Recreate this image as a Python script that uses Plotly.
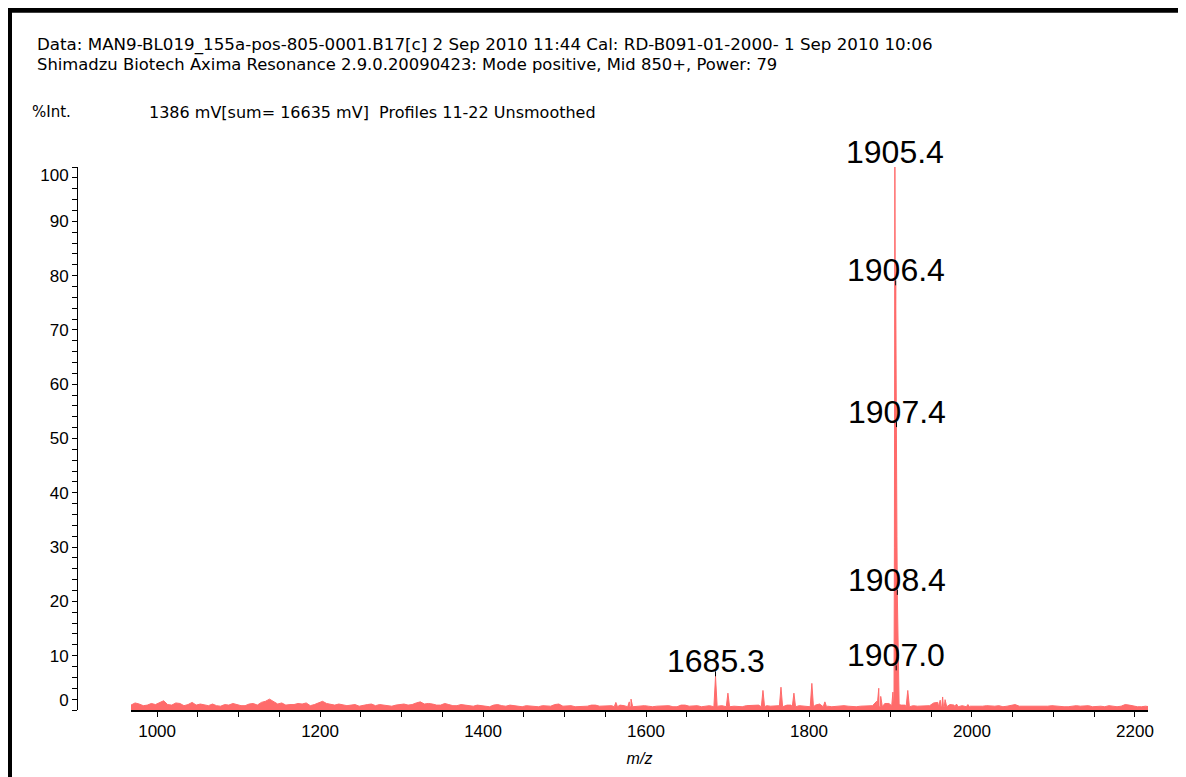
import plotly.graph_objects as go

# ---------------- data ----------------
header_line1 = "Data: MAN9-BL019_155a-pos-805-0001.B17[c] 2 Sep 2010 11:44 Cal: RD-B091-01-2000- 1 Sep 2010 10:06"
header_line2 = "Shimadzu Biotech Axima Resonance 2.9.0.20090423: Mode positive, Mid 850+, Power: 79"
y_title = "%Int."
info_text = "1386 mV[sum= 16635 mV]  Profiles 11-22 Unsmoothed"
x_title = "m/z"

# baseline noise, sampled every 5 Da starting at m/z 968 (%Int)
NOISE_START = 968
NOISE_STEP = 5
noise_int = [
    0.9, 1.3, 1.1, 0.8, 0.9, 1.2, 1.0, 1.4, 1.7, 1.0, 0.9, 1.3, 1.2, 0.8, 1.0, 1.4, 0.9, 1.1, 1.0, 0.8,
    1.1, 0.8, 0.7, 1.0, 0.9, 1.2, 1.0, 0.8, 0.8, 1.1, 1.2, 0.9, 1.4, 1.6, 2.0, 1.5, 1.1, 1.3, 0.9, 1.0,
    1.0, 1.2, 1.1, 1.3, 0.8, 1.0, 1.3, 1.6, 1.2, 1.0, 0.9, 1.1, 1.0, 0.8, 0.9, 1.0, 0.7, 0.9, 1.0, 1.1,
    0.8, 1.0, 0.9, 0.7, 0.7, 0.9, 1.0, 1.1, 0.9, 1.0, 1.3, 1.5, 1.1, 1.2, 1.1, 0.9, 0.9, 1.2, 1.0, 0.8,
    0.8, 1.0, 0.9, 0.8, 0.7, 0.9, 0.8, 0.7, 0.6, 0.9, 1.0, 0.8, 0.7, 0.9, 0.8, 0.7, 0.6, 0.8, 0.7, 0.6,
    0.6, 0.8, 0.8, 0.7, 1.0, 1.1, 0.7, 0.8, 0.8, 0.6, 0.6, 0.7, 0.7, 0.9, 0.9, 0.7, 0.7, 0.8, 0.8, 0.7,
    0.9, 0.8, 1.0, 1.2, 0.7, 0.8, 0.8, 0.7, 0.6, 0.7, 0.7, 0.8, 0.8, 0.6, 0.6, 0.9, 0.9, 0.7, 0.7, 0.8,
    0.6, 0.7, 0.8, 0.7, 0.7, 0.8, 0.8, 0.7, 0.7, 0.6, 0.6, 0.8, 0.8, 0.9, 0.9, 0.8, 0.8, 0.7, 0.7, 0.8,
    0.8, 0.9, 0.9, 0.8, 0.8, 0.7, 0.7, 0.9, 0.9, 1.1, 0.8, 0.7, 0.6, 0.7, 0.8, 0.8, 0.7, 0.6, 0.6, 0.7,
    0.7, 0.8, 0.8, 1.6, 1.6, 1.2, 1.2, 1.0, 1.0, 0.9, 0.9, 0.8, 0.8, 0.7, 0.7, 0.8, 0.8, 1.3, 1.4, 1.2,
    1.2, 1.0, 0.9, 0.8, 0.8, 0.9, 0.7, 0.7, 0.6, 0.7, 0.8, 0.7, 0.7, 0.8, 0.6, 0.7, 0.9, 1.0, 0.7, 0.7,
    0.6, 0.7, 0.7, 0.6, 0.6, 0.7, 0.8, 0.7, 0.7, 0.6, 0.6, 0.7, 0.8, 0.7, 0.7, 0.8, 0.6, 0.7, 0.7, 0.6,
    0.8, 0.7, 0.6, 0.7, 1.0, 0.9, 0.7, 0.6, 0.6, 0.7, 0.6, 0.7,
]

# isolated peaks (m/z, %Int)
peak_mz = [1563.0, 1579.5, 1581.6, 1685.3, 1700.5, 1743.5, 1765.6, 1781.5,
           1803.5, 1819.5, 1885.6, 1888.0, 1921.2, 1961.0, 1964.0, 1967.0,
           1981.0, 1995.0]
peak_int = [1.4, 1.5, 2.0, 6.2, 3.1, 3.6, 4.2, 3.1,
            4.9, 1.5, 4.0, 2.5, 3.6, 1.8, 2.4, 1.9,
            1.1, 1.0]

# main isotope cluster profile (m/z, %Int)
cluster_mz = [1901.5, 1903.0, 1903.8, 1904.3, 1904.8, 1905.4, 1905.9, 1906.4,
              1906.9, 1907.4, 1907.9, 1908.4, 1908.9, 1909.4, 1910.0, 1910.6]
cluster_int = [0.8, 3.3, 1.0, 1.5, 30.0, 100.0, 70.0, 78.2,
               50.0, 52.1, 32.0, 21.2, 16.0, 10.0, 4.0, 1.0]

# labelled peaks
label_text = ["1685.3", "1905.4", "1906.4", "1907.4", "1908.4", "1907.0"]
label_mz = [1685.3, 1905.4, 1906.4, 1907.4, 1908.4, 1907.0]
label_int = [6.2, 100.0, 78.2, 52.1, 21.2, 7.3]

y_tick_text = ["0", "10", "20", "30", "40", "50", "60", "70", "80", "90", "100"]

# ---------------- build the profile ----------------
FOOT_HALF = 2.0
FOOT_LEVEL = 0.6
noise_mz = [NOISE_START + NOISE_STEP * i for i in range(len(noise_int))]
c_lo, c_hi = min(cluster_mz), max(cluster_mz)
pts = [(m, v) for m, v in zip(noise_mz, noise_int)
       if all(abs(m - p) > FOOT_HALF + 0.5 for p in peak_mz)
       and not (c_lo - 0.5 <= m <= c_hi + 0.5)]
for p, h in zip(peak_mz, peak_int):
    pts += [(p - FOOT_HALF, FOOT_LEVEL), (p, h), (p + FOOT_HALF, FOOT_LEVEL)]
pts += list(zip(cluster_mz, cluster_int))
pts.sort()
xs = [a for a, _ in pts]
ys = [b for _, b in pts]

FONT = "Arial, 'Liberation Sans', sans-serif"
HFONT = "'DejaVu Sans', Arial, sans-serif"
RED = "#ff6b6b"

fig = go.Figure()
fig.add_trace(go.Scatter(x=xs, y=ys, mode="lines",
                         line=dict(color=RED, width=1),
                         fill="tozeroy", fillcolor=RED,
                         hoverinfo="skip", showlegend=False))

# ---------------- layout geometry (page pixels) ----------------
OFF = 8                      # page body margin
PAGE_W, PAGE_H = 1186, 777
W, H = PAGE_W - OFF, PAGE_H - OFF
PLOT_L, PLOT_R, PLOT_T, PLOT_B = 77, 1148, 167, 713   # page coords
ML, MR, MT, MB = PLOT_L - OFF, PAGE_W - PLOT_R, PLOT_T - OFF, PAGE_H - PLOT_B
pw = PLOT_R - PLOT_L
ph = PLOT_B - PLOT_T


def px_x(px):
    return (px - PLOT_L) / pw


def px_y(py):
    return (PLOT_B - py) / ph


annotations = []
for t, m, h in zip(label_text, label_mz, label_int):
    annotations.append(dict(x=m, y=h, xref="x", yref="y", text=t,
                            showarrow=False, xanchor="center", yanchor="bottom",
                            yshift=-5, font=dict(family=FONT, size=32, color="black")))

annotations += [
    dict(x=px_x(35), y=px_y(44), xref="paper", yref="paper", text=header_line1,
         showarrow=False, xanchor="left", yanchor="middle",
         font=dict(family=HFONT, size=16.7, color="black")),
    dict(x=px_x(35), y=px_y(64), xref="paper", yref="paper", text=header_line2,
         showarrow=False, xanchor="left", yanchor="middle",
         font=dict(family=HFONT, size=16.4, color="black")),
    dict(x=px_x(30), y=px_y(112), xref="paper", yref="paper", text=y_title,
         showarrow=False, xanchor="left", yanchor="middle",
         font=dict(family=HFONT, size=15, color="black")),
    dict(x=px_x(147), y=px_y(112), xref="paper", yref="paper", text=info_text,
         showarrow=False, xanchor="left", yanchor="middle",
         font=dict(family=HFONT, size=16, color="black")),
]

shapes = []
for m, h in zip(label_mz, label_int):
    shapes.append(dict(type="line", xref="x", yref="y", ysizemode="pixel",
                       x0=m, x1=m, yanchor=h, y0=0, y1=5,
                       line=dict(color="black", width=1)))
# frame (top and left thick lines)
shapes.append(dict(type="path", xref="paper", yref="paper",
                   path=f"M {px_x(1200)},{px_y(9.5)} L {px_x(9.5)},{px_y(9.5)} L {px_x(9.5)},{px_y(790)}",
                   line=dict(color="black", width=5)))

fig.update_layout(
    width=W, height=H,
    margin=dict(l=ML, r=MR, t=MT, b=MB, pad=0),
    paper_bgcolor="white", plot_bgcolor="white",
    showlegend=False,
    font=dict(family=FONT, color="black"),
    annotations=annotations,
    shapes=shapes,
    xaxis=dict(range=[968, 2216], domain=[px_x(131), 1.0],
               showline=True, linecolor="black", linewidth=2,
               showgrid=False, zeroline=False,
               ticks="outside", ticklen=5, tickwidth=1, tickcolor="black",
               tick0=1000, dtick=200,
               minor=dict(dtick=50, tick0=1000, ticks="outside", ticklen=5,
                          tickwidth=1, tickcolor="black"),
               tickfont=dict(family=FONT, size=17, color="black"),
               title=dict(text="<i>" + x_title + "</i>", standoff=12,
                          font=dict(family=FONT, size=16, color="black"))),
    yaxis=dict(range=[0, 100], anchor="free", position=0,
               showline=True, linecolor="black", linewidth=1,
               showgrid=False, zeroline=False,
               tickmode="array",
               tickvals=[1.8, 10, 20, 30, 40, 50, 60, 70, 80, 90, 98.5],
               ticktext=y_tick_text,
               ticks="outside", ticklen=5, tickcolor="rgba(0,0,0,0)",
               minor=dict(tickmode="array", tickvals=list(range(0, 101, 2)),
                          ticks="outside", ticklen=5, tickwidth=1, tickcolor="black"),
               tickfont=dict(family=FONT, size=17, color="black")),
)

fig.write_html("out.html")
